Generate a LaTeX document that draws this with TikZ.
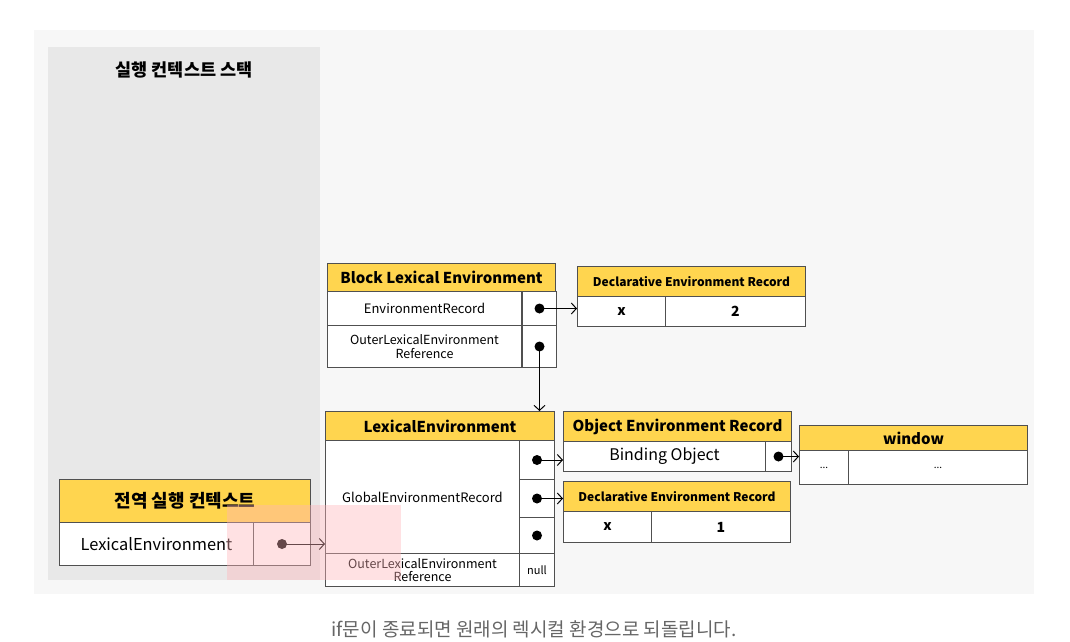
\documentclass[tikz,border=0pt]{standalone}
\usepackage{fontspec}
\setmainfont{Noto Sans CJK KR}
\usepackage{tikz}
\usetikzlibrary{positioning, arrows, arrows.meta, calc}
\definecolor{hdryellow}{RGB}{255,213,79}
\definecolor{linegray}{RGB}{80,80,80}
\definecolor{panelgray}{RGB}{232,232,232}
\definecolor{pagegray}{RGB}{247,247,247}
\definecolor{markpink}{RGB}{255,180,185}
\newcommand{\Fs}[1]{\fontsize{#1}{#1}\selectfont}
\tikzset{
    hdr/.style={draw=linegray, fill=hdryellow, line width=1pt, inner sep=0pt, anchor=north west, font=\bfseries\Fs{15}},
    cell/.style={draw=linegray, fill=white, line width=1pt, inner sep=0pt, anchor=north west, align=center, font=\Fs{13}},
    dot/.style={circle, fill=black, inner sep=0pt, minimum size=10pt},
    ptr/.style={-{Straight Barb[length=5pt, width=11pt]}, line width=1pt},
}

\begin{document}
\begin{tikzpicture}[x=1pt, y=-1pt]
    \useasboundingbox (0,0) rectangle (1070,642);
    \fill[white] (0,0) rectangle (1070,642);
    \fill[pagegray] (34,30) rectangle (1034,594);
    \fill[panelgray] (48,47) rectangle (320,580);

    \node[font=\bfseries\Fs{17.5}] (stacktitle) at (184,70) {실행 컨텍스트 스택};

    % block lexical environment
    \node[hdr, minimum width=228, minimum height=28] (blehdr) at (327,263) {Block Lexical Environment};
    \node[cell, minimum width=194, minimum height=34] (blerec) at (327,291) {EnvironmentRecord};
    \node[cell, minimum width=34, minimum height=34, right=0pt of blerec.north east, anchor=north west] (blerecp) {};
    \node[cell, minimum width=194, minimum height=42, font=\Fs{12.5}] (bleout) at (327,325) {OuterLexicalEnvironment\\[1pt]Reference};
    \node[cell, minimum width=34, minimum height=42, right=0pt of bleout.north east, anchor=north west] (bleoutp) {};
    \node[dot] (blerecd) at (blerecp.center) {};
    \node[dot] (bleoutd) at (bleoutp.center) {};

    \node[hdr, minimum width=228, minimum height=30, font=\bfseries\Fs{12}] (deronehdr) at (577,266) {Declarative Environment Record};
    \node[cell, minimum width=88, minimum height=30, font=\bfseries\Fs{14}] (deronex) at (577,296) {x};
    \node[cell, minimum width=140, minimum height=30, font=\bfseries\Fs{14}] (deronev) at (665,296) {2};

    % global lexical environment
    \node[hdr, minimum width=229, minimum height=29] (lehdr) at (325,411) {LexicalEnvironment};
    \node[cell, minimum width=194, minimum height=113] (lerec) at (325,440) {GlobalEnvironmentRecord};
    \node[cell, minimum width=35, minimum height=39] (lerecpa) at (519,440) {};
    \node[cell, minimum width=35, minimum height=38] (lerecpb) at (519,479) {};
    \node[cell, minimum width=35, minimum height=36] (lerecpc) at (519,517) {};
    \node[cell, minimum width=194, minimum height=33, font=\Fs{12.5}] (leout) at (325,553) {OuterLexicalEnvironment\\[0.5pt]Reference};
    \node[cell, minimum width=35, minimum height=33, font=\Fs{11}] (leoutp) at (519,553) {null};
    \node[dot] (lerecda) at (lerecpa.center) {};
    \node[dot] (lerecdb) at (lerecpb.center) {};
    \node[dot] (lerecdc) at (lerecpc.center) {};

    \node[hdr, minimum width=228, minimum height=30] (oerhdr) at (563,411) {Object Environment Record};
    \node[cell, minimum width=202, minimum height=30, font=\Fs{16}] (oerbind) at (563,441) {Binding Object};
    \node[cell, minimum width=26, minimum height=30] (oerbindp) at (765,441) {};
    \node[dot] (oerbindd) at (oerbindp.center) {};

    \node[hdr, minimum width=228, minimum height=25] (winhdr) at (799,425) {window};
    \node[cell, minimum width=49, minimum height=34, font=\Fs{10}] (winkey) at (799,450) {...};
    \node[cell, minimum width=179, minimum height=34, font=\Fs{10}] (winval) at (848,450) {...};

    \node[hdr, minimum width=227, minimum height=30, font=\bfseries\Fs{12}] (dertwohdr) at (563,481) {Declarative Environment Record};
    \node[cell, minimum width=88, minimum height=31, font=\bfseries\Fs{14}] (dertwox) at (563,511) {x};
    \node[cell, minimum width=139, minimum height=31, font=\bfseries\Fs{14}] (dertwov) at (651,511) {1};

    % global execution context
    \node[hdr, minimum width=251, minimum height=43, font=\bfseries\Fs{18}] (gechdr) at (59,479) {전역 실행 컨텍스트};
    \node[cell, minimum width=194, minimum height=43, font=\Fs{16.4}] (gecle) at (59,522) {LexicalEnvironment};
    \node[cell, minimum width=57, minimum height=43] (geclep) at (253,522) {};
    \node[dot] (gecled) at (geclep.center) {};

    \draw[ptr] (blerecd.center) -- (blerecd.center -| deronex.west);
    \draw[ptr] (bleoutd.center) -- (bleoutd.center |- lehdr.north);
    \draw[ptr] (lerecda.center) -- (lerecda.center -| oerbind.west);
    \draw[ptr] (lerecdb.center) -- (lerecdb.center -| dertwohdr.west);
    \draw[ptr] (oerbindd.center) -- (oerbindd.center -| winkey.west);
    \draw[ptr] (gecled.center) -- (gecled.center -| lerec.west);

    \fill[markpink, opacity=0.4] (227,505) rectangle (401,580);

    \node[text=black!60, font=\Fs{19}] (caption) at (534,629) {if문이 종료되면 원래의 렉시컬 환경으로 되돌립니다.};
\end{tikzpicture}
\end{document}
